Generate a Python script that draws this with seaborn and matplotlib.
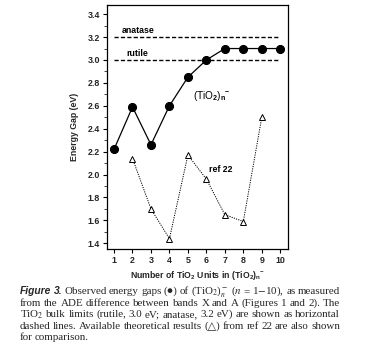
import matplotlib.pyplot as plt
import pandas as pd
import seaborn as sns
from matplotlib.ticker import MultipleLocator

# observed gaps (TiO2)n-
n_obs = [1, 2, 3, 4, 5, 6, 7, 8, 9, 10]
gap_obs = [2.22, 2.59, 2.26, 2.60, 2.85, 3.00, 3.10, 3.10, 3.10, 3.10]
# theory, ref 22
n_ref = [2, 3, 4, 5, 6, 7, 8, 9]
gap_ref = [2.14, 1.70, 1.44, 2.17, 1.96, 1.65, 1.59, 2.50]
# bulk limits
bulk_names = ["anatase", "rutile"]
bulk_gaps = [3.2, 3.0]

caption_lines = [
    "Figure 3. Observed energy gaps (\u25cf) of (TiO$_2$)$_n^-$ ($n$ = 1$-$10), as measured",
    "from the ADE difference between bands X and A (Figures 1 and 2). The",
    "TiO$_2$ bulk limits (rutile, 3.0 eV; anatase, 3.2 eV) are shown as horizontal",
    "dashed lines. Available theoretical results (\u25b3) from ref 22 are also shown",
    "for comparison.",
]

sns.set_style("ticks")
plt.rcParams["font.family"] = ["Liberation Sans", "DejaVu Sans"]
plt.rcParams["mathtext.fontset"] = "custom"
plt.rcParams["mathtext.rm"] = "Liberation Sans:bold"
plt.rcParams["mathtext.it"] = "Liberation Sans:italic:bold"
plt.rcParams["mathtext.bf"] = "Liberation Sans:bold"

df_obs = pd.DataFrame({"n": n_obs, "gap": gap_obs})
df_ref = pd.DataFrame({"n": n_ref, "gap": gap_ref})

fig = plt.figure(figsize=(3.74, 3.52), dpi=100)
ax = fig.add_axes([0.2861, 0.2926, 0.4840, 0.6932])

for name, g in zip(bulk_names, bulk_gaps):
    ax.plot([1, 10], [g, g], color="black", lw=1.0, ls=(0, (3, 1.6)), zorder=1)

sns.lineplot(data=df_ref, x="n", y="gap", ax=ax, color="black", lw=0.7,
             linestyle=(0, (1.2, 1.2)), marker="^", markersize=4.5,
             markerfacecolor="white", markeredgecolor="black",
             markeredgewidth=0.7, zorder=2)
sns.lineplot(data=df_obs, x="n", y="gap", ax=ax, color="black", lw=0.9,
             marker="o", markersize=5.8, markerfacecolor="black",
             markeredgecolor="black", zorder=3)

lab = dict(fontsize=6.3, fontweight="bold", color="black")
ax.text(1.4, 3.235, "anatase", **lab)
ax.text(1.65, 3.035, "rutile", **lab)
ax.text(5.25, 2.66, "(TiO$_2$)$_\\mathrm{n}{}^{-}$", fontsize=7.2, color="black")
ax.text(6.15, 2.02, "ref 22", **lab)

ax.set_xlim(0.62, 10.42)
ax.set_ylim(1.35, 3.48)
ax.set_xticks(n_obs)
ax.yaxis.set_major_locator(MultipleLocator(0.2))
ax.yaxis.set_minor_locator(MultipleLocator(0.1))
ax.tick_params(which="major", length=3, width=0.8, labelsize=6.4, pad=2,
               direction="out", color="black")
ax.tick_params(which="minor", length=2, width=0.6, direction="out")
for lbl in ax.get_xticklabels() + ax.get_yticklabels():
    lbl.set_fontweight("bold")
for s in ax.spines.values():
    s.set_visible(True)
    s.set_linewidth(0.9)
    s.set_color("black")

ax.set_ylabel("Energy Gap (eV)", fontsize=6.3, fontweight="bold", labelpad=6)
ax.set_xlabel("Number of TiO$_2$ Units in (TiO$_2$)$_\\mathrm{n}{}^{-}$",
              fontsize=6.3, fontweight="bold", labelpad=3)

# caption, justified word by word
renderer = fig.canvas.get_renderer()
x_left, x_right = 20, 340
cap_y0 = 1 - 294 / 352
dy = 11.6 / 352
serif = dict(fontsize=7.9, family=["Liberation Serif", "DejaVu Sans"],
             math_fontfamily="stix", va="baseline")
for i, line in enumerate(caption_lines):
    words = line.split(" ")
    arts = []
    for j, w in enumerate(words):
        if i == 0 and j < 2:
            t = fig.text(0, 0, w, fontsize=7.4, fontweight="bold",
                         fontstyle="italic", family=["Liberation Sans"],
                         va="baseline")
        else:
            t = fig.text(0, 0, w, **serif)
        arts.append(t)
    widths = [a.get_window_extent(renderer).width for a in arts]
    if i < len(caption_lines) - 1:
        gap = (x_right - x_left - sum(widths)) / (len(arts) - 1)
    else:
        gap = 2.2
    x = x_left
    y = cap_y0 - i * dy
    for a, w in zip(arts, widths):
        a.set_position((x / 374, y))
        x += w + gap

fig.savefig("out.png", dpi=100)
